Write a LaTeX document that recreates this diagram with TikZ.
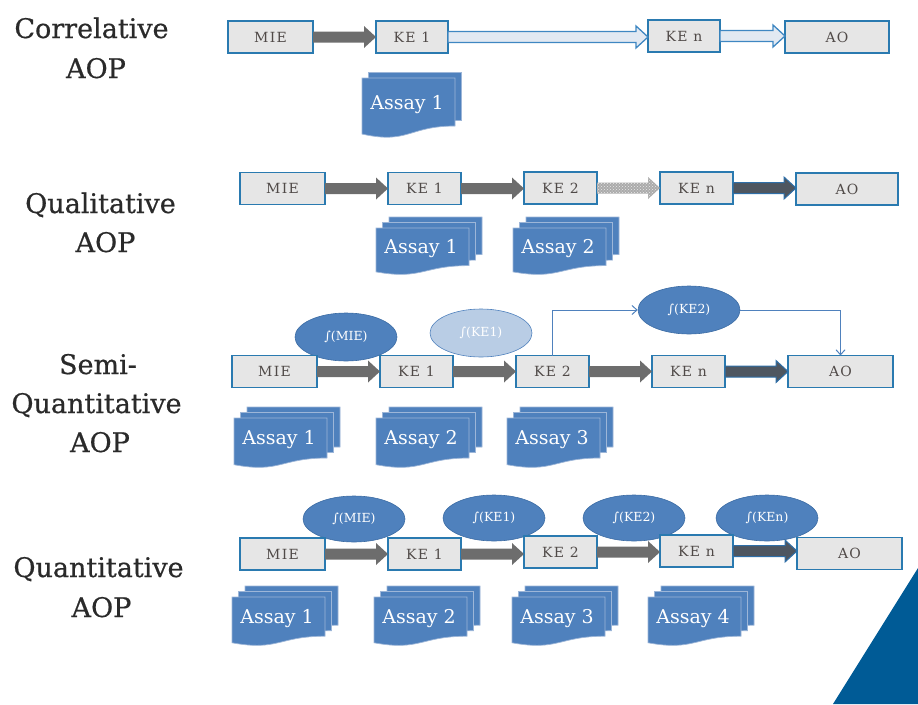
\documentclass[tikz,border=0pt]{standalone}
\usepackage{fontspec}
\setmainfont{DejaVu Serif}
\newfontfamily\boxfont[LetterSpace=9]{DejaVu Serif}
\newfontfamily\titlefont[FakeBold=0.6]{DejaVu Serif}
\usetikzlibrary{calc,shapes.geometric,arrows.meta,patterns}
\definecolor{boxfill}{HTML}{E6E6E6}
\definecolor{boxdraw}{HTML}{2A7AB0}
\definecolor{arrgray}{HTML}{6D6D6D}
\definecolor{arrdark}{HTML}{4E5660}
\definecolor{arrdarkline}{HTML}{2F6FA8}
\definecolor{hollowfill}{HTML}{E2E9F2}
\definecolor{hollowline}{HTML}{3F87C2}
\definecolor{hatchfill}{HTML}{ABABAB}
\definecolor{docblue}{HTML}{4F81BD}
\definecolor{docline}{HTML}{9DB6D8}
\definecolor{elldraw}{HTML}{3C6CA4}
\definecolor{lightell}{HTML}{B9CDE5}
\definecolor{conncol}{HTML}{4F81BD}
\definecolor{tricol}{HTML}{005B96}
\definecolor{titlecol}{HTML}{2A2A2A}
\definecolor{labelcol}{HTML}{504A48}
\newcommand\blockarr[3]{%
  \path[#1] let \p1=(#2.east), \p2=(#3.west) in
    (\x1,\y1+5.5pt) -- (\x2-12pt,\y1+5.5pt) -- (\x2-12pt,\y1+11pt) -- (\x2,\y1)
    -- (\x2-12pt,\y1-11pt) -- (\x2-12pt,\y1-5.5pt) -- (\x1,\y1-5.5pt) -- cycle;}
\newcommand\assay[6]{%
  \foreach \k in {#4,...,0}{
    \path[docshape, shift={(#2+6.5*\k,#3-5.5*\k)}] (0,0) -- (93,0) -- (93,0.8*#5)
      .. controls (46.5,0.8*#5) and (46.5,1.107*#5) .. (0,0.934*#5) -- cycle;
  }
  \node[assaytxt] (#1) at (#2+45,#3+0.44*#5) {#6};}
\tikzset{
  title/.style={text=titlecol, font=\titlefont\fontsize{27}{32}\selectfont, inner sep=0pt, anchor=base},
  kebox/.style={draw=boxdraw, fill=boxfill, line width=1.4pt, minimum height=32pt,
    inner sep=0pt, outer sep=0pt, text=labelcol, font=\boxfont\fontsize{14}{16}\selectfont},
  ell/.style={ellipse, fill=docblue, draw=elldraw, line width=0.6pt, minimum width=102pt,
    minimum height=48pt, inner sep=0pt, text=white, font=\fontsize{12.5}{14}\selectfont},
  lightellipse/.style={ell, fill=lightell, draw=docblue},
  grayarr/.style={fill=arrgray},
  darkarr/.style={fill=arrdark, draw=arrdarkline, line width=1pt},
  hollowarr/.style={fill=hollowfill, draw=hollowline, line width=1.3pt},
  hatcharr/.style={fill=hatchfill, postaction={pattern=crosshatch dots, pattern color=white!75!hatchfill}},
  docshape/.style={fill=docblue, draw=docline, line width=0.7pt},
  assaytxt/.style={text=white, font=\fontsize{19}{22}\selectfont, inner sep=0pt},
  conn/.style={draw=conncol, line width=1pt}
}
\begin{document}
\begin{tikzpicture}[x=1pt,y=-1pt]
\useasboundingbox (0,0) rectangle (918,704);
% titles
\node[title] (t1a) at (91.5,38) {Correlative};
\node[title] (t1b) at (96,78) {AOP};
\node[title] (t2a) at (100.5,213) {Qualitative};
\node[title] (t2b) at (105.5,252) {AOP};
\node[title] (t3a) at (98,374) {Semi-};
\node[title] (t3b) at (96.5,413) {Quantitative};
\node[title] (t3c) at (100,452) {AOP};
\node[title] (t4a) at (98.5,577) {Quantitative};
\node[title] (t4b) at (101.5,617) {AOP};
% ellipses
\node[ell] (f31) at (346,337) {∫(MIE)};
\node[lightellipse] (f32a) at (481,333) {∫(KE1)};
\node[ell] (f32) at (689,310) {∫(KE2)};
\node[ell, minimum height=46pt] (f41) at (354,519) {∫(MIE)};
\node[ell, minimum height=46pt] (f42) at (494,518) {∫(KE1)};
\node[ell, minimum height=46pt] (f43) at (634,518) {∫(KE2)};
\node[ell, minimum height=46pt] (f44) at (767,518) {∫(KEn)};
% row 1
\node[kebox, minimum width=85pt] (m1) at (270.5,37) {MIE};
\node[kebox, minimum width=72pt] (k11) at (412,37) {KE 1};
\node[kebox, minimum width=72pt] (k1n) at (684,36) {KE n};
\node[kebox, minimum width=104pt] (a1) at (837,37) {AO};
% row 2
\node[kebox, minimum width=85pt] (m2) at (282.5,188.5) {MIE};
\node[kebox, minimum width=73pt] (k21) at (424.5,188.5) {KE 1};
\node[kebox, minimum width=73pt] (k22) at (560.5,188) {KE 2};
\node[kebox, minimum width=73pt] (k2n) at (696.5,188) {KE n};
\node[kebox, minimum width=102pt] (a2) at (847,189) {AO};
% row 3
\node[kebox, minimum width=85pt] (m3) at (274.5,371.5) {MIE};
\node[kebox, minimum width=73pt] (k31) at (416.5,371.5) {KE 1};
\node[kebox, minimum width=73pt] (k32) at (552.5,371.5) {KE 2};
\node[kebox, minimum width=73pt] (k3n) at (688.5,371.5) {KE n};
\node[kebox, minimum width=105pt] (a3) at (840.5,371.5) {AO};
% row 4
\node[kebox, minimum width=85pt] (m4) at (282.5,554) {MIE};
\node[kebox, minimum width=73pt] (k41) at (424.5,554) {KE 1};
\node[kebox, minimum width=73pt] (k42) at (560.5,552) {KE 2};
\node[kebox, minimum width=73pt] (k4n) at (696.5,551) {KE n};
\node[kebox, minimum width=105pt] (a4) at (849.5,553.5) {AO};
% arrows
\blockarr{grayarr}{m1}{k11}
\blockarr{hollowarr}{k11}{k1n}
\blockarr{hollowarr}{k1n}{a1}
\blockarr{grayarr}{m2}{k21}
\blockarr{grayarr}{k21}{k22}
\blockarr{hatcharr}{k22}{k2n}
\blockarr{darkarr}{k2n}{a2}
\blockarr{grayarr}{m3}{k31}
\blockarr{grayarr}{k31}{k32}
\blockarr{grayarr}{k32}{k3n}
\blockarr{darkarr}{k3n}{a3}
\blockarr{grayarr}{m4}{k41}
\blockarr{grayarr}{k41}{k42}
\blockarr{grayarr}{k42}{k4n}
\blockarr{darkarr}{k4n}{a4}
% connectors row 3
\draw[conn, -{Straight Barb[length=5pt,width=9pt]}] (k32.north) |- (f32.west);
\draw[conn, -{Straight Barb[length=5pt,width=9pt]}] (f32.east) -| (a3.north);
% assays
\assay{s11}{362}{78}{1}{60}{Assay 1}
\assay{s21}{376}{228}{2}{47}{Assay 1}
\assay{s22}{513}{228}{2}{47}{Assay 2}
\assay{s31}{234}{418}{2}{50}{Assay 1}
\assay{s32}{376}{418}{2}{50}{Assay 2}
\assay{s33}{507}{418}{2}{50}{Assay 3}
\assay{s41}{232}{597}{2}{49}{Assay 1}
\assay{s42}{374}{597}{2}{49}{Assay 2}
\assay{s43}{512}{597}{2}{49}{Assay 3}
\assay{s44}{648}{597}{2}{49}{Assay 4}
% corner triangle
\fill[tricol] (918,568) -- (918,704) -- (833,704) -- cycle;
\end{tikzpicture}
\end{document}
